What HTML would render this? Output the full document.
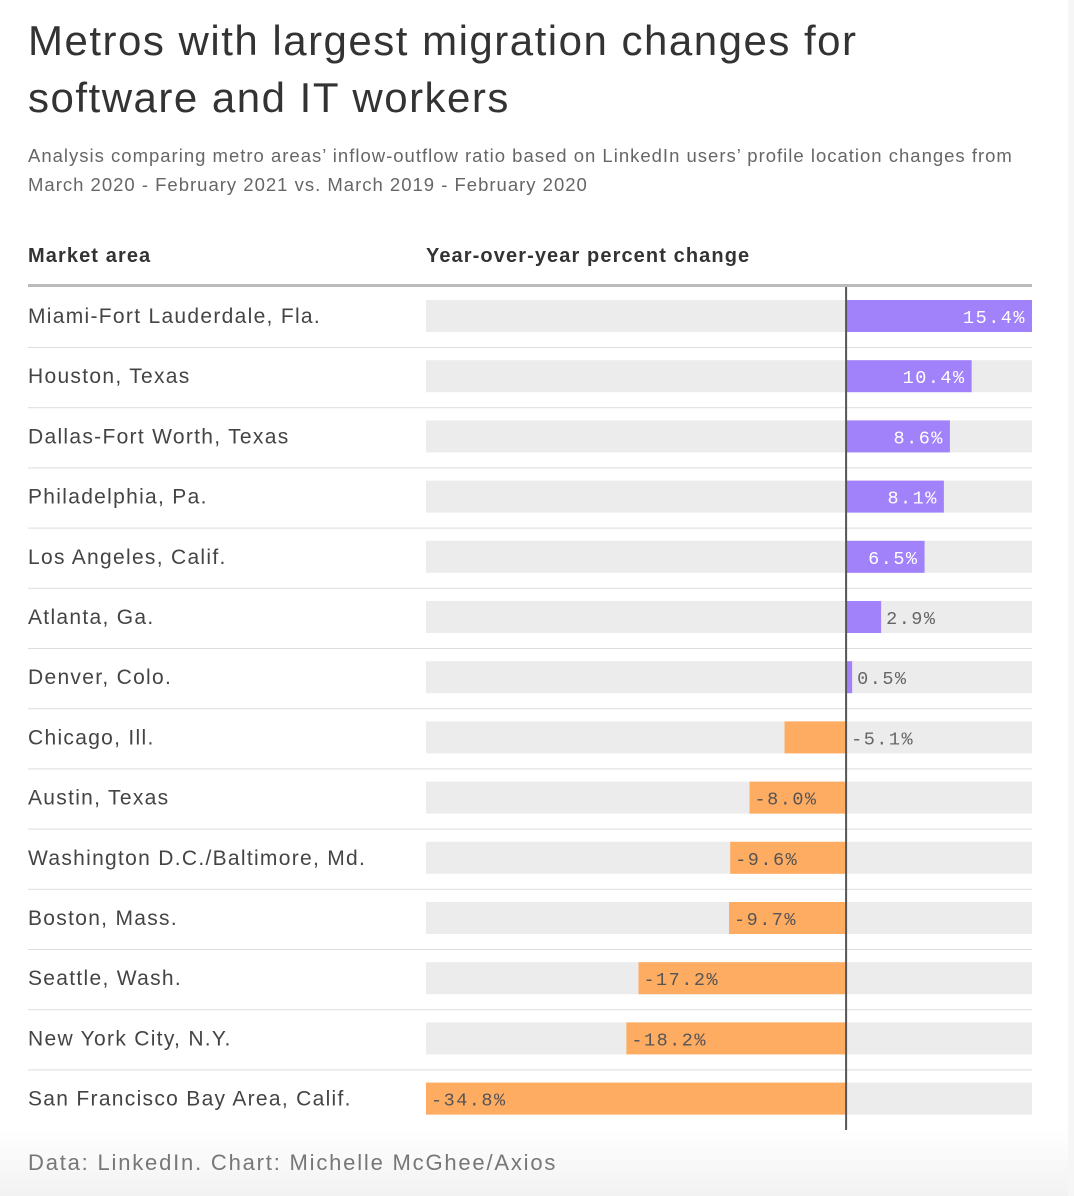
<!DOCTYPE html>
<html><head><meta charset="utf-8"><style>
html,body{margin:0;padding:0}
body{width:1074px;height:1196px;position:relative;overflow:hidden;background:linear-gradient(#fff 0,#fff 1130px,#f2f2f2 1196px);font-family:"Liberation Sans",sans-serif;color:#333}
.t{position:absolute;left:28px;top:12px;font-size:42px;line-height:57px;color:#333;margin:0;font-weight:normal;letter-spacing:1.5px}
.s{position:absolute;left:28px;top:141px;font-size:18.5px;line-height:29px;color:#666;letter-spacing:1px}
.h{position:absolute;top:245px;font-size:20px;font-weight:bold;color:#333;letter-spacing:1.1px}
.f{position:absolute;left:28px;top:1150px;font-size:22px;color:#777;letter-spacing:1.8px}
.edge{position:absolute;left:1068px;top:0;width:6px;height:1196px;background:#f6f6f6}
</style></head><body>
<div class="edge"></div>
<h1 class="t">Metros with largest migration changes for<br>software and IT workers</h1>
<div class="s">Analysis comparing metro areas’ inflow-outflow ratio based on LinkedIn users’ profile location changes from<br>March 2020 - February 2021 vs. March 2019 - February 2020</div>
<div class="h" style="left:28px">Market area</div>
<div class="h" style="left:426px">Year-over-year percent change</div>
<svg id="c" width="1074" height="1196" style="position:absolute;left:0;top:0"></svg>
<div class="f">Data: LinkedIn. Chart: Michelle McGhee/Axios</div>
<script>
const categories=["Miami-Fort Lauderdale, Fla.","Houston, Texas","Dallas-Fort Worth, Texas","Philadelphia, Pa.","Los Angeles, Calif.","Atlanta, Ga.","Denver, Colo.","Chicago, Ill.","Austin, Texas","Washington D.C./Baltimore, Md.","Boston, Mass.","Seattle, Wash.","New York City, N.Y.","San Francisco Bay Area, Calif."];
const values=[15.4,10.4,8.6,8.1,6.5,2.9,0.5,-5.1,-8.0,-9.6,-9.7,-17.2,-18.2,-34.8];
const labels=["15.4%","10.4%","8.6%","8.1%","6.5%","2.9%","0.5%","-5.1%","-8.0%","-9.6%","-9.7%","-17.2%","-18.2%","-34.8%"];
const NS="http://www.w3.org/2000/svg",svg=document.getElementById('c');
const x0=426,x1=1032,vmin=-34.8,vmax=15.4;
const x=v=>x0+(v-vmin)/(vmax-vmin)*(x1-x0);
const y=i=>300+i*60.2;
function mk(t,a){const e=document.createElementNS(NS,t);for(const k in a)e.setAttribute(k,a[k]);svg.appendChild(e);return e;}
let hl=mk('rect',{x:28,y:284,width:1004,height:3,fill:'#bbb'});


categories.forEach((c,i)=>{
  const bg=mk('rect',{x:x0,y:y(i),width:x1-x0,height:32,fill:'#ececec'});
  
  
  if(i<categories.length-1){const s=mk('rect',{x:28,y:y(i)+47,width:1004,height:1,fill:'#ddd'});
  
  }
  const t=mk('text',{x:28,y:y(i)+23,'font-size':21,fill:'#444','font-family':'Liberation Sans, sans-serif','letter-spacing':'1.3'});
  t.textContent=c;
  
  
  const v=values[i],a=x(0),b=x(v),L=Math.min(a,b),W=Math.abs(b-a);
  const r=mk('rect',{x:L,y:y(i),width:W,height:32,fill:v>=0?'#a182fa':'#ffac63'});
  
  
  let lx,anchor,col,inside=W>70;
  if(v>=0){if(inside){lx=b-6;anchor='end';col='#fff';}else{lx=b+5;anchor='start';col='#666';}}
  else{if(inside){lx=b+5;anchor='start';col='#555';}else{lx=a+5;anchor='start';col='#666';}}
  const l=mk('text',{x:lx,y:y(i)+23,'font-size':18.5,fill:col,'text-anchor':anchor,'font-family':'Liberation Mono, monospace','letter-spacing':'1.5'});
  l.textContent=labels[i];
  
  
});
const z=mk('rect',{x:x(0)-1,y:287,width:2,height:843,fill:'#555'});


</script>
</body></html>
